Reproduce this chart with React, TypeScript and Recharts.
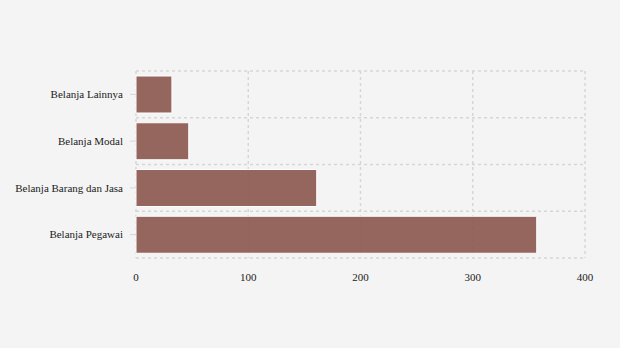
import { BarChart, Bar, XAxis, YAxis, CartesianGrid } from "recharts";

const CATEGORIES = ["Belanja Lainnya", "Belanja Modal", "Belanja Barang dan Jasa", "Belanja Pegawai"];
const VALUES = [32, 47, 161, 357];
const X_TICKS = [0, 100, 200, 300, 400];

const data = CATEGORIES.map((name, i) => ({ name, value: VALUES[i] }));

const FONT = "'Liberation Serif', 'Times New Roman', serif";

// plain one-line tick so long labels don't wrap
function CategoryTick({ x, y, payload }: any) {
  return (
    <text x={x} y={y} dy="0.35em" textAnchor="end" fill="#222" fontSize={11} fontFamily={FONT}>
      {payload.value}
    </text>
  );
}

export default function App() {
  return (
    <div style={{ position: "fixed", left: 0, top: 0, width: 620, height: 348, background: "#f4f4f4" }}>
      <BarChart
        width={620}
        height={348}
        data={data}
        layout="vertical"
        margin={{ top: 71, right: 35, bottom: 0, left: 0 }}
        barSize={37}
      >
        {/* horizontal lines sit on the category boundaries, not the centres */}
        <CartesianGrid
          stroke="#d6d6d6"
          strokeWidth={1.5}
          strokeDasharray="3 3"
          horizontalCoordinatesGenerator={({ offset }: any) =>
            CATEGORIES.concat([""]).map((_, i) => offset.top + (i * offset.height) / CATEGORIES.length)
          }
        />
        <XAxis
          type="number"
          domain={[0, 400]}
          ticks={X_TICKS}
          height={90}
          axisLine={false}
          tickLine={false}
          tickSize={0}
          tickMargin={15}
          tick={{ fill: "#222", fontSize: 11, fontFamily: FONT }}
        />
        <YAxis
          type="category"
          dataKey="name"
          width={136}
          axisLine={false}
          tickLine={{ stroke: "#d6d6d6" }}
          tickSize={6}
          tickMargin={7}
          tick={<CategoryTick />}
        />
        <Bar dataKey="value" fill="#8b564d" fillOpacity={0.9} stroke="#ffffff" strokeWidth={1} isAnimationActive={false} />
      </BarChart>
    </div>
  );
}
